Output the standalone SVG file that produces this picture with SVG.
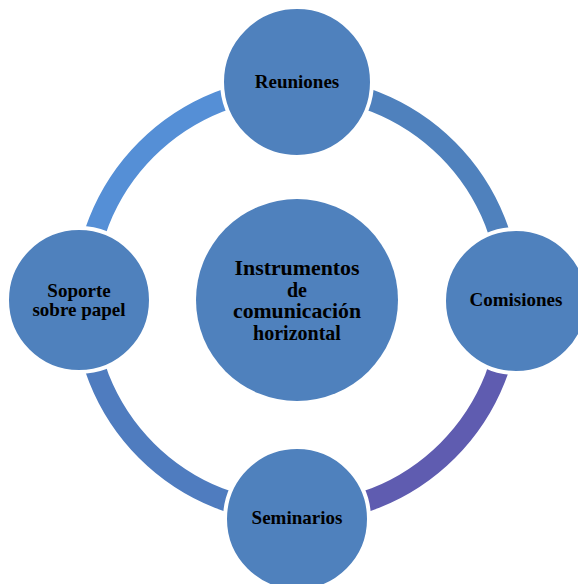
<svg xmlns="http://www.w3.org/2000/svg" width="578" height="584" viewBox="0 0 578 584">
  <style>
    .ring { fill: none; stroke-width: 21; }
    .node { fill: #4f81bd; stroke: #ffffff; stroke-width: 4; }
    .lbl { font-family: "Liberation Serif", "Times New Roman", serif; font-weight: bold; fill: #000000; text-anchor: middle; }
    .sat { font-size: 19px; }
    .hub { font-size: 20px; }
  </style>
  <rect width="578" height="584" fill="#ffffff"/>

  <!-- ring segments joining the outer nodes -->
  <g id="connectors">
    <path class="ring" stroke="#4f81bd" d="M 297 87 A 213 213 0 0 1 510 300"/>
    <path class="ring" stroke="#5f5cb0" d="M 510 300 A 213 213 0 0 1 297 513"/>
    <path class="ring" stroke="#4f7cbf" d="M 297 513 A 213 213 0 0 1 84 300"/>
    <path class="ring" stroke="#558fd6" d="M 84 300 A 213 213 0 0 1 297 87"/>
  </g>

  <g id="hub">
    <circle cx="297" cy="300" r="101" fill="#4f81bd"/>
    <text class="lbl hub" x="297" y="275" textLength="125" lengthAdjust="spacingAndGlyphs">Instrumentos</text>
    <text class="lbl hub" x="297" y="296.5">de</text>
    <text class="lbl hub" x="297" y="318" textLength="128" lengthAdjust="spacingAndGlyphs">comunicación</text>
    <text class="lbl hub" x="297" y="339.5">horizontal</text>
  </g>

  <g id="reuniones">
    <circle class="node" cx="297" cy="82" r="75"/>
    <text class="lbl sat" x="297" y="88">Reuniones</text>
  </g>

  <g id="comisiones">
    <circle class="node" cx="516" cy="301" r="72"/>
    <text class="lbl sat" x="516" y="306">Comisiones</text>
  </g>

  <g id="seminarios">
    <circle class="node" cx="297" cy="519" r="72"/>
    <text class="lbl sat" x="297" y="524">Seminarios</text>
  </g>

  <g id="soporte">
    <circle class="node" cx="79" cy="300" r="72"/>
    <text class="lbl sat" x="79" y="297">Soporte</text>
    <text class="lbl sat" x="79" y="316">sobre papel</text>
  </g>
</svg>
